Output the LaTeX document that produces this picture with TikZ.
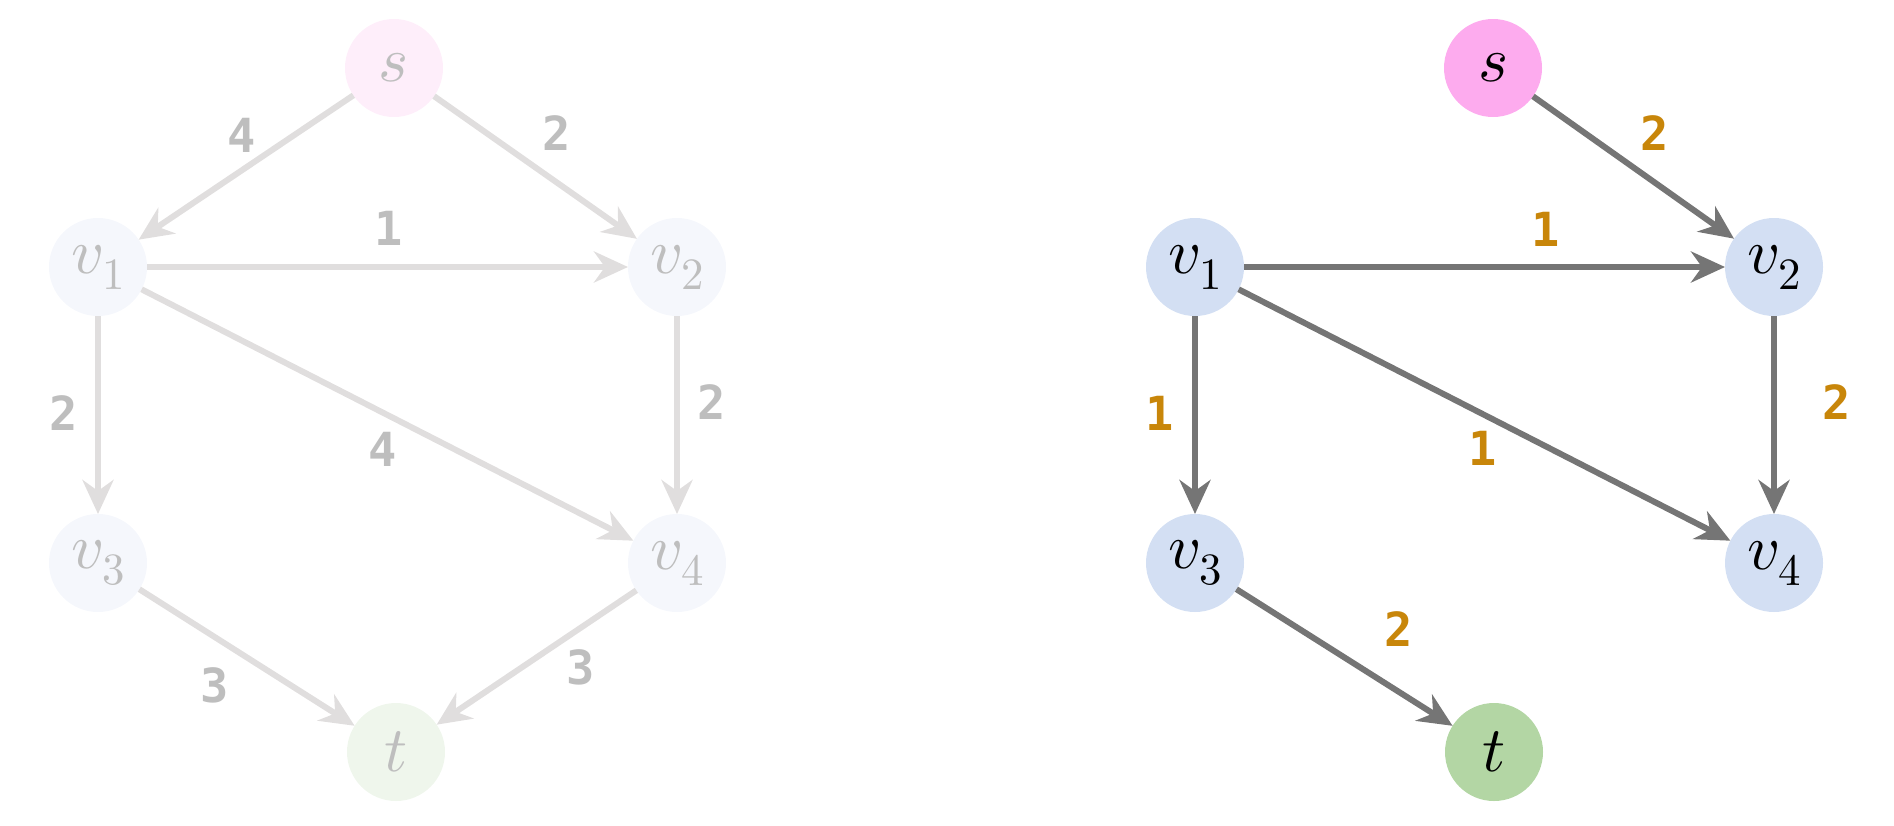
\documentclass[tikz,border=0pt]{standalone}
\usepackage{fontspec}
\usepackage{unicode-math}
\setmathfont{Latin Modern Math}
\newfontfamily\lblfont{DejaVu Sans Mono}
\usetikzlibrary{arrows.meta}
\definecolor{spink}{HTML}{FDABEE}
\definecolor{vblue}{HTML}{D3DFF3}
\definecolor{tgreen}{HTML}{B3D6A4}
\definecolor{edgegray}{HTML}{757575}
\definecolor{lblgold}{HTML}{C8860A}
\definecolor{fspink}{HTML}{FEEEFA}
\definecolor{fvblue}{HTML}{F5F7FC}
\definecolor{ftgreen}{HTML}{EFF6EC}
\definecolor{fedge}{HTML}{E0DEDE}
\definecolor{ftext}{HTML}{BEBEBE}
\tikzset{
  vert/.style={circle, minimum size=98pt, inner sep=0pt, outer sep=0pt,
    font=\fontsize{64}{70}\selectfont},
  darr/.style={line width=6pt, draw=edgegray,
    -{Stealth[length=34pt, width=31pt, inset=11pt]}},
  farr/.style={line width=6pt, draw=fedge,
    -{Stealth[length=34pt, width=31pt, inset=11pt]}},
  dlbl/.style={font=\lblfont\bfseries\fontsize{47}{50}\selectfont, text=lblgold},
  flbl/.style={font=\lblfont\bfseries\fontsize{47}{50}\selectfont, text=ftext},
}
\begin{document}
\begin{tikzpicture}[x=1pt, y=-1pt]
\useasboundingbox (0,0) rectangle (1894,825);
% ---------- faded graph ----------
\node[vert, fill=fspink, text=ftext] (ls) at (394,68) {$s$};
\node[vert, fill=fvblue, text=ftext] (lv1) at (98,267) {$v_1$};
\node[vert, fill=fvblue, text=ftext] (lv2) at (677,267) {$v_2$};
\node[vert, fill=fvblue, text=ftext] (lv3) at (98,563) {$v_3$};
\node[vert, fill=fvblue, text=ftext] (lv4) at (677,563) {$v_4$};
\node[vert, fill=ftgreen, text=ftext] (lt) at (396,752) {$t$};
\draw[farr] (ls) -- (lv1);
\draw[farr] (ls) -- (lv2);
\draw[farr] (lv1) -- (lv2);
\draw[farr] (lv1) -- (lv3);
\draw[farr] (lv1) -- (lv4);
\draw[farr] (lv2) -- (lv4);
\draw[farr] (lv3) -- (lt);
\draw[farr] (lv4) -- (lt);
\node[flbl] (la) at (242,135) {4};
\node[flbl] (lb) at (557,133) {2};
\node[flbl] (lc) at (389,228) {1};
\node[flbl] (ld) at (64,413) {2};
\node[flbl] (le) at (383,449) {4};
\node[flbl] (lf) at (712,402) {2};
\node[flbl] (lg) at (215,685) {3};
\node[flbl] (lh) at (581,667) {3};
% ---------- active graph ----------
\node[vert, fill=spink] (rs) at (1493,68) {$s$};
\node[vert, fill=vblue] (rv1) at (1195,267) {$v_1$};
\node[vert, fill=vblue] (rv2) at (1774,267) {$v_2$};
\node[vert, fill=vblue] (rv3) at (1195,563) {$v_3$};
\node[vert, fill=vblue] (rv4) at (1774,563) {$v_4$};
\node[vert, fill=tgreen] (rt) at (1494,752) {$t$};
\draw[darr] (rs) -- (rv2);
\draw[darr] (rv1) -- (rv2);
\draw[darr] (rv1) -- (rv3);
\draw[darr] (rv1) -- (rv4);
\draw[darr] (rv2) -- (rv4);
\draw[darr] (rv3) -- (rt);
\node[dlbl] (ra) at (1655,133) {2};
\node[dlbl] (rb) at (1546,229) {1};
\node[dlbl] (rc) at (1160,413) {1};
\node[dlbl] (rd) at (1483,448) {1};
\node[dlbl] (re) at (1837,402) {2};
\node[dlbl] (rf) at (1399,629) {2};
\end{tikzpicture}
\end{document}
